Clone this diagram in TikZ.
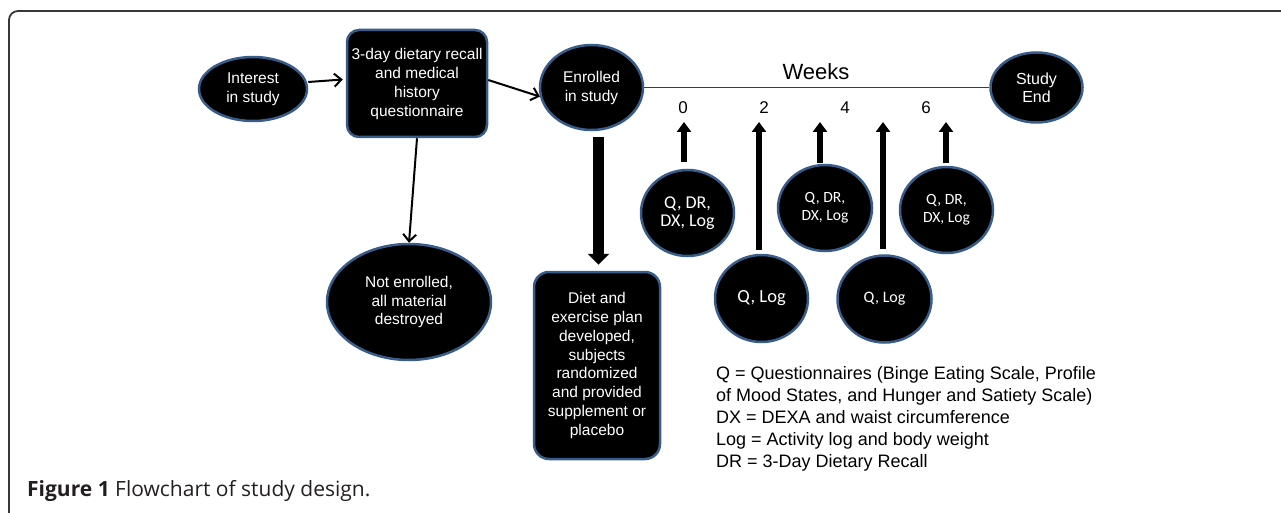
\documentclass[tikz,border=0pt]{standalone}
\usepackage{fontspec}
\setmainfont{Liberation Sans}
\newfontfamily\calfont{Carlito}
\newfontfamily\capfont{Open Sans}
\usetikzlibrary{shapes.geometric,arrows.meta}
\definecolor{nodeedge}{RGB}{56,93,138}
\definecolor{framegray}{RGB}{55,55,55}
\definecolor{captext}{RGB}{35,31,32}
\definecolor{linegray}{RGB}{60,60,60}
\newcommand\fs[2]{\fontsize{#1}{#2}\selectfont}
\begin{document}
\begin{tikzpicture}[x=1pt,y=-1pt,
  blob/.style={ellipse, fill=black, draw=nodeedge, line width=2.5pt, text=white, inner sep=0pt, align=center},
  rbox/.style={rectangle, fill=black, draw=nodeedge, line width=2.5pt, text=white, inner sep=0pt, align=center},
  flowarrow/.style={line width=2pt, -{Straight Barb[length=7pt,width=13pt]}},
  bigarrow/.style={line width=11pt, -{Triangle[length=11pt,width=21pt]}},
  uparrow/.style={line width=6pt, -{Triangle[length=10pt,width=14pt]}},
  helv/.style={font=\fs{15.5}{19}},
  cal/.style={font=\calfont\fs{#1}{18}},
  weeknum/.style={font=\fs{17}{20}, inner sep=0pt}
]
\useasboundingbox (0,0) rectangle (1281,513);
% frame
\draw[framegray, line width=1.8pt, rounded corners=9pt] (1295,11) -- (9,11) -- (9,525);

% main nodes
\node[blob, helv, minimum width=108pt, minimum height=64pt] (interest) at (253,89) {Interest\\in study};
\node[rbox, helv, rounded corners=12pt, minimum width=140pt, minimum height=107pt] (recall) at (417,83.5) {3-day dietary recall\\and medical\\history\\questionnaire};
\node[blob, helv, minimum width=103pt, minimum height=85pt] (enrolled) at (591.5,87.5) {Enrolled\\in study};
\node[blob, font=\fs{16}{18}, minimum width=92pt, minimum height=70pt] (studyend) at (1036.5,87.5) {Study\\End};
\node[blob, font=\fs{15.5}{18.5}, minimum width=164pt, minimum height=116pt] (notenr) at (409,302) {Not enrolled,\\all material\\destroyed};
\node[rbox, font=\fs{15.5}{18.85}, rounded corners=15pt, minimum width=126pt, minimum height=187pt] (diet) at (597,365.5) {Diet and\\exercise plan\\developed,\\subjects\\randomized\\and provided\\supplement or\\placebo};

% timeline
\node[font=\fs{22}{26}, inner sep=0pt] (weeks) at (816,72) {Weeks};
\node[weeknum] (w0) at (683,108) {0};
\node[weeknum] (w2) at (764,108) {2};
\node[weeknum] (w4) at (845,108) {4};
\node[weeknum] (w6) at (926,108) {6};

% measurement circles
\node[blob, cal=18, minimum width=93pt, minimum height=86pt] (q0) at (687.5,213) {Q, DR,\\DX, Log};
\node[blob, cal=15.6, minimum width=94pt, minimum height=86pt] (q4) at (825,208) {Q, DR,\\DX, Log};
\node[blob, cal=15.6, minimum width=93pt, minimum height=86pt] (q6) at (946.5,210) {Q, DR,\\DX, Log};
\node[blob, cal=18.5, minimum width=93pt, minimum height=87pt] (l2) at (761.5,298.5) {Q, Log};
\node[blob, cal=16, minimum width=94pt, minimum height=87pt] (l5) at (884.5,299) {Q, Log};

% legend
\node[anchor=west, align=left, font=\fs{18}{22}, inner sep=0pt] (legend) at (716,419) {Q = Questionnaires (Binge Eating Scale, Profile\\of Mood States, and Hunger and Satiety Scale)\\DX = DEXA and waist circumference\\Log = Activity log and body weight\\DR = 3-Day Dietary Recall};

% caption
\node[anchor=base west, text=captext, font=\capfont\fs{21}{24}, inner sep=0pt] (caption) at (27,496) {\textbf{Figure 1} Flowchart of study design.};

% arrow tips on the timeline
\coordinate (t0) at (684,122);
\coordinate (t2) at (759,122);
\coordinate (t4) at (820,122);
\coordinate (t5) at (883,122);
\coordinate (t6) at (946,122);

% connectors
\draw[flowarrow] ([yshift=7pt]interest.east) -- ([xshift=-3pt,yshift=4pt]recall.west);
\draw[flowarrow] ([yshift=3.5pt]recall.east) -- (enrolled.190);
\draw[flowarrow] (recall.south) -- (notenr.north);
\draw[bigarrow] ([xshift=7pt,yshift=-6pt]enrolled.south) -- ([xshift=1.5pt,yshift=6pt]diet.north);
\draw[linegray, line width=1.5pt] (enrolled.east) -- (studyend.west);

\draw[uparrow, shorten <=7pt] (q0.north -| t0) -- (t0);
\draw[uparrow, shorten <=4pt] (l2.north -| t2) -- (t2);
\draw[uparrow, shorten <=1pt] (q4.north -| t4) -- (t4);
\draw[uparrow, shorten <=5pt] (l5.north -| t5) -- (t5);
\draw[uparrow, shorten <=3pt] (q6.north -| t6) -- (t6);
\end{tikzpicture}
\end{document}
